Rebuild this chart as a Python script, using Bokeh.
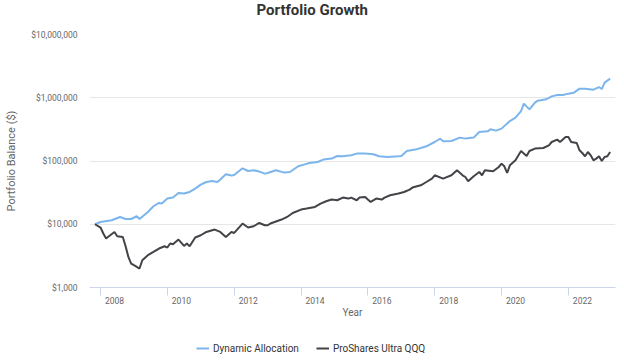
from bokeh.plotting import figure
from bokeh.layouts import column
from bokeh.models import (FixedTicker, Legend, LegendItem, Range1d, Label,
                          NumeralTickFormatter, CustomJSTickFormatter)
from bokeh.embed import file_html
from bokeh.resources import INLINE

title_text = "Portfolio Growth"
y_axis_title = "Portfolio Balance ($)"
x_axis_title = "Year"
series_names = ["Dynamic Allocation", "ProShares Ultra QQQ"]
series_colors = ["#7cb5ec", "#434348"]
tick_years = [2008, 2010, 2012, 2014, 2016, 2018, 2020, 2022]
y_ticks = [1000, 10000, 100000, 1000000, 10000000]

dyn_dates = ["2007-11", "2008-01", "2008-05", "2008-08", "2008-10", "2008-12", "2009-02", "2009-03",
             "2009-06", "2009-08", "2009-10", "2009-11", "2010-01", "2010-03", "2010-05", "2010-07",
             "2010-09", "2010-11", "2011-01", "2011-03", "2011-05", "2011-07", "2011-08", "2011-10",
             "2011-12", "2012-01", "2012-04", "2012-06", "2012-08", "2012-10", "2012-12", "2013-01",
             "2013-04", "2013-07", "2013-09", "2013-12", "2014-02", "2014-04", "2014-07", "2014-09",
             "2014-12", "2015-02", "2015-04", "2015-07", "2015-09", "2015-12", "2016-03", "2016-05",
             "2016-08", "2016-12", "2017-01", "2017-03", "2017-06", "2017-08", "2017-10", "2018-01",
             "2018-03", "2018-04", "2018-07", "2018-10", "2018-12", "2019-03", "2019-05", "2019-08",
             "2019-09", "2019-11", "2020-01", "2020-04", "2020-06", "2020-08", "2020-09", "2020-11",
             "2021-01", "2021-02", "2021-05", "2021-07", "2021-09", "2021-11", "2022-01", "2022-03",
             "2022-05", "2022-07", "2022-10", "2022-12", "2023-01", "2023-02", "2023-04"]
dyn_values = [10000, 10870, 11570, 13040, 12120, 12100, 13380, 12120,
              15640, 19250, 21700, 21230, 25470, 26410, 31230, 30550,
              32380, 36640, 42390, 46580, 48310, 46580, 50840, 61650,
              58810, 60100, 76680, 69500, 71300, 68000, 63200, 64630,
              71300, 65570, 67020, 82480, 87740, 92990, 96430, 105200,
              109100, 120000, 118600, 123000, 130900, 130900, 127600, 118600,
              115700, 118600, 120000, 143900, 151400, 160500, 170700, 199700,
              225900, 204800, 207000, 234300, 225900, 234300, 287200, 294600,
              316800, 302200, 324900, 428500, 484900, 616500, 807000, 655800,
              836900, 900000, 943500, 1052000, 1103000, 1103000, 1161000, 1204000,
              1393000, 1393000, 1343000, 1476000, 1372000, 1732000, 2003000]

qld_dates = ["2007-11", "2008-01", "2008-02", "2008-03", "2008-04", "2008-06", "2008-07", "2008-09",
             "2008-10", "2008-11", "2008-12", "2009-01", "2009-03", "2009-04", "2009-06", "2009-08",
             "2009-10", "2009-12", "2010-01", "2010-02", "2010-03", "2010-05", "2010-07", "2010-08",
             "2010-09", "2010-11", "2011-01", "2011-03", "2011-06", "2011-08", "2011-10", "2011-12",
             "2012-01", "2012-04", "2012-06", "2012-08", "2012-10", "2012-12", "2013-01", "2013-02",
             "2013-06", "2013-08", "2013-10", "2014-01", "2014-03", "2014-06", "2014-08", "2014-10",
             "2014-12", "2015-02", "2015-04", "2015-06", "2015-07", "2015-09", "2015-10", "2015-12",
             "2016-01", "2016-02", "2016-04", "2016-06", "2016-07", "2016-09", "2016-12", "2017-02",
             "2017-04", "2017-05", "2017-08", "2017-10", "2017-12", "2018-01", "2018-04", "2018-07",
             "2018-09", "2018-11", "2018-12", "2019-01", "2019-03", "2019-05", "2019-06", "2019-07",
             "2019-10", "2019-12", "2020-01", "2020-02", "2020-03", "2020-04", "2020-06", "2020-08",
             "2020-10", "2020-11", "2021-01", "2021-04", "2021-06", "2021-07", "2021-09", "2021-10",
             "2021-12", "2022-01", "2022-02", "2022-04", "2022-05", "2022-06", "2022-07", "2022-08",
             "2022-09", "2022-10", "2022-11", "2022-12", "2023-01", "2023-02", "2023-03", "2023-04"]
qld_values = [10000, 8870, 7130, 5945, 6463, 7556, 6463, 6302,
              4492, 3044, 2394, 2251, 1996, 2700, 3238, 3651,
              4131, 4492, 4284, 4956, 4831, 5733, 4541, 4956,
              4492, 6166, 6703, 7556, 8247, 7556, 6302, 7556,
              7289, 10260, 8870, 9299, 10480, 9643, 9643, 10260,
              11860, 13040, 15080, 17070, 17700, 18760, 21230, 23080,
              24550, 23940, 26410, 25470, 26410, 23940, 26410, 26990,
              24550, 22510, 25470, 24550, 26410, 28720, 30550, 32380,
              35340, 37990, 41310, 46580, 52720, 59450, 52720, 59450,
              71300, 59450, 55870, 47790, 57330, 67020, 59450, 71300,
              68760, 80400, 90970, 82480, 64630, 85540, 102600, 143900,
              120000, 143900, 157000, 160500, 177000, 199700, 217800, 199700,
              239400, 239400, 199700, 192500, 147600, 133800, 118600, 138800,
              123000, 102600, 109100, 118600, 100000, 115700, 118600, 138800]


def to_year(s):
    y, m = s.split("-")
    return int(y) + (int(m) - 1) / 12.0


FONT = "Roboto"
LABEL_SHIFT = 0.42  # year labels sit to the right of their tick marks


def strip(height):
    f = figure(width=624, height=height, x_range=Range1d(0, 1), y_range=Range1d(0, 1),
               output_backend="svg", toolbar_location=None,
               x_axis_location=None, y_axis_location=None, min_border=0,
               background_fill_color="white", border_fill_color="white")
    f.outline_line_color = None
    f.grid.grid_line_color = None
    return f


# title strip above the chart (its frame is aligned with the chart's frame)
tf = strip(20)
tf.add_layout(Label(x=167, y=20, x_units="screen", y_units="screen", text=title_text,
                    text_font=FONT, text_font_size="15px", text_font_style="bold",
                    text_color="#333333", text_baseline="top", text_align="left"))

p = figure(width=624, height=310, y_axis_type="log",
           x_range=Range1d(2007.67, 2023.41), y_range=Range1d(1000, 10000000),
           output_backend="svg", toolbar_location=None,
           min_border_left=89, min_border_right=9, min_border_top=14, min_border_bottom=43,
           background_fill_color="white", border_fill_color="white")
p.outline_line_color = None

# y axis
ya = p.yaxis[0]
ya.ticker = FixedTicker(ticks=y_ticks)
ya.formatter = NumeralTickFormatter(format="$0,0")
ya.axis_line_color = None
ya.major_tick_line_color = None
ya.minor_tick_line_color = None
ya.major_tick_out = 0
ya.minor_tick_out = 0
ya.major_tick_in = 0
ya.minor_tick_in = 0
ya.major_label_standoff = 12
ya.major_label_text_font = FONT
ya.major_label_text_font_size = "8.5px"
ya.major_label_text_color = "#666666"
ya.axis_label = y_axis_title
ya.axis_label_text_font = FONT
ya.axis_label_text_font_size = "11px"
ya.axis_label_text_font_style = "normal"
ya.axis_label_text_color = "#666666"
ya.axis_label_standoff = 10

p.ygrid.ticker = FixedTicker(ticks=y_ticks)
p.ygrid.grid_line_color = "#e6e6e6"
p.xgrid.grid_line_color = None

# x axis: labels (major ticks, invisible) sit right of the visible year tick marks (minor)
xa = p.xaxis[0]
xa.ticker = FixedTicker(ticks=[y + LABEL_SHIFT for y in tick_years], minor_ticks=tick_years)
xa.formatter = CustomJSTickFormatter(code="return Math.floor(tick).toString()")
xa.axis_line_color = "#ccd6eb"
xa.major_tick_line_color = None
xa.major_tick_out = 8
xa.major_tick_in = 0
xa.minor_tick_line_color = "#ccd6eb"
xa.minor_tick_out = 8
xa.minor_tick_in = 0
xa.major_label_standoff = 1
xa.major_label_text_font = FONT
xa.major_label_text_font_size = "8.5px"
xa.major_label_text_color = "#666666"
xa.axis_label = x_axis_title
xa.axis_label_text_font = FONT
xa.axis_label_text_font_size = "10px"
xa.axis_label_text_font_style = "normal"
xa.axis_label_text_color = "#666666"
xa.axis_label_standoff = 0

p.line([to_year(d) for d in dyn_dates], dyn_values, line_color=series_colors[0], line_width=2)
p.line([to_year(d) for d in qld_dates], qld_values, line_color=series_colors[1], line_width=2)

# legend strip below the chart
nan = float("nan")
lg = strip(33)
k1 = lg.line(x=[nan], y=[nan], line_color=series_colors[0], line_width=2)
k2 = lg.line(x=[nan], y=[nan], line_color=series_colors[1], line_width=2)
legend = Legend(items=[LegendItem(label=series_names[0], renderers=[k1]),
                       LegendItem(label=series_names[1], renderers=[k2])],
                orientation="horizontal", location=(107, 9))
legend.label_text_font = FONT
legend.label_text_font_size = "10px"
legend.label_text_color = "#333333"
legend.glyph_width = 13
legend.glyph_height = 12
legend.label_height = 12
legend.label_standoff = 4
legend.spacing = 17
legend.padding = 0
legend.margin = 0
legend.border_line_color = None
legend.background_fill_alpha = 0
lg.add_layout(legend)

open("out.html", "w").write(file_html(column(tf, p, lg, spacing=0), INLINE))
